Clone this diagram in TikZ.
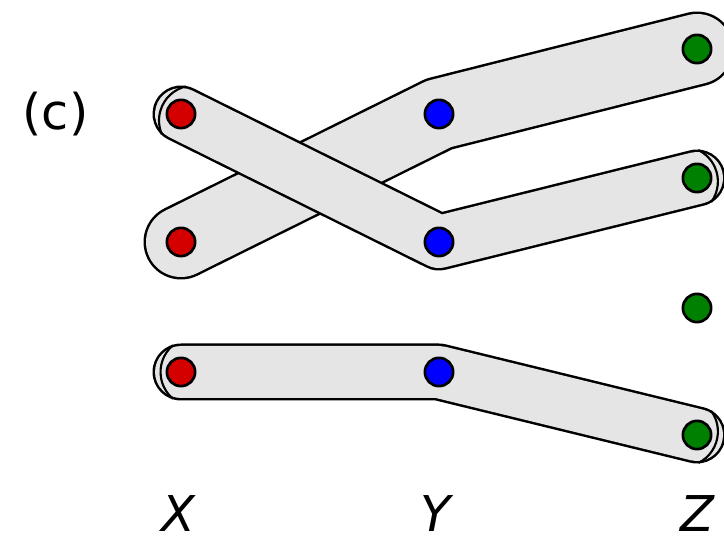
\documentclass[tikz,border=0pt]{standalone}
\usepackage{fontspec}
\setmainfont{DejaVu Sans}
\usetikzlibrary{calc}
\definecolor{bandgray}{RGB}{229,229,229}
\definecolor{dotred}{RGB}{212,0,0}
\definecolor{dotblue}{RGB}{0,0,255}
\definecolor{dotgreen}{RGB}{0,128,0}
\newcommand\innerarc[2]{%
  \draw[arcline] let \p1=($(#2)-(#1)$), \n1={atan2(\y1,\x1)} in
    ($(#1)!10.9pt!(#2)$) ++(\n1+130:35) arc[start angle=\n1+130, end angle=\n1+230, radius=35];}
\begin{document}
\begin{tikzpicture}[x=0.75pt,y=0.75pt,
  dot/.style={circle,draw=black,line width=2pt,minimum size=21.2pt,inner sep=0pt},
  wideout/.style={draw=black,line width=56.25pt,line join=round,line cap=round},
  widein/.style={draw=bandgray,line width=52.5pt,line join=round,line cap=round},
  narrowout/.style={draw=black,line width=42.75pt,line join=round,line cap=round},
  narrowin/.style={draw=bandgray,line width=39pt,line join=round,line cap=round},
  arcline/.style={draw=black,line width=1.6pt},
  lab/.style={font=\fontsize{37}{44}\selectfont,inner sep=0pt}]
\clip (0,0) rectangle (724,538);
% positions
\coordinate (r1) at (181,424);
\coordinate (r2) at (181,296);
\coordinate (r3) at (181,166);
\coordinate (b1) at (439,424);
\coordinate (b2) at (439,296);
\coordinate (b3) at (439,166);
\coordinate (g1) at (697,489);
\coordinate (g2) at (697,360);
\coordinate (g3) at (697,230);
\coordinate (g4) at (697,103);
% band 1 (below)
\draw[wideout] (r2) -- (b1) -- (g1);
\draw[widein] (r2) -- (b1) -- (g1);
% band 2
\draw[narrowout] (r1) -- (b2) -- (g2);
\draw[narrowin] (r1) -- (b2) -- (g2);
% band 3
\draw[narrowout] (r3) -- (b3) -- (g4);
\draw[narrowin] (r3) -- (b3) -- (g4);
% inner arcs at band ends
\innerarc{r1}{b2}
\innerarc{g2}{b2}
\innerarc{r3}{b3}
\innerarc{g4}{b3}
% dots
\node[dot,fill=dotred] (R1) at (r1) {};
\node[dot,fill=dotred] (R2) at (r2) {};
\node[dot,fill=dotred] (R3) at (r3) {};
\node[dot,fill=dotblue] (B1) at (b1) {};
\node[dot,fill=dotblue] (B2) at (b2) {};
\node[dot,fill=dotblue] (B3) at (b3) {};
\node[dot,fill=dotgreen] (G1) at (g1) {};
\node[dot,fill=dotgreen] (G2) at (g2) {};
\node[dot,fill=dotgreen] (G3) at (g3) {};
\node[dot,fill=dotgreen] (G4) at (g4) {};
% labels
\node[lab,anchor=base] (lx) at (178,6) {\itshape X};
\node[lab,anchor=base] (ly) at (436,6) {\itshape Y};
\node[lab,anchor=base] (lz) at (697,6) {\itshape Z};
\node[lab] (lc) at (55.5,423.5) {(c)};
\end{tikzpicture}
\end{document}
